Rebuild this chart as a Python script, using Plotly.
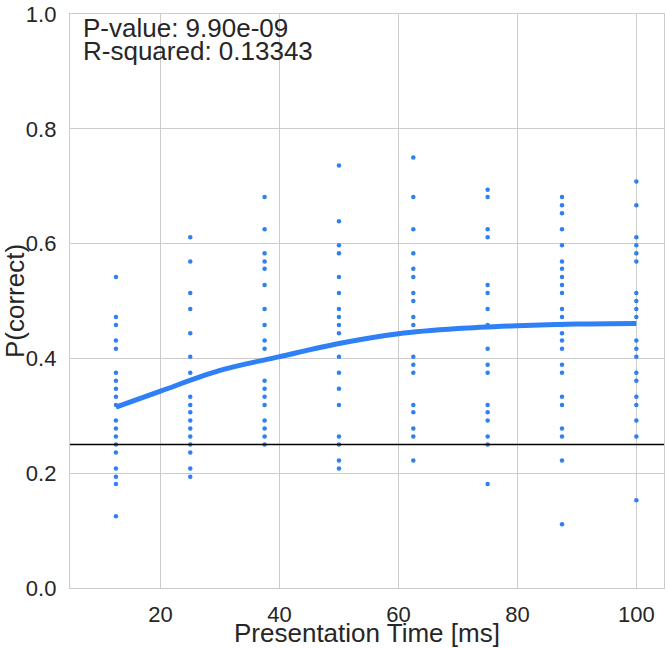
import plotly.graph_objects as go

# Presentation times (ms)
presentation_times = [12.5, 25, 37.5, 50, 62.5, 75, 87.5, 100]

# P(correct) per subject at each presentation time
p_12_5 = [0.542, 0.472, 0.458, 0.431, 0.417, 0.375, 0.361, 0.347, 0.333, 0.319,
          0.292, 0.278, 0.264, 0.25, 0.236, 0.208, 0.194, 0.181, 0.125]
p_25 = [0.611, 0.569, 0.514, 0.486, 0.444, 0.403, 0.375, 0.333, 0.319, 0.306,
        0.292, 0.278, 0.264, 0.25, 0.236, 0.208, 0.194]
p_37_5 = [0.681, 0.625, 0.583, 0.569, 0.556, 0.528, 0.486, 0.458, 0.431, 0.417,
          0.361, 0.347, 0.333, 0.319, 0.292, 0.278, 0.264, 0.25]
p_50 = [0.736, 0.639, 0.597, 0.583, 0.542, 0.514, 0.486, 0.472, 0.458, 0.444,
        0.403, 0.375, 0.347, 0.319, 0.264, 0.25, 0.222, 0.208]
p_62_5 = [0.75, 0.681, 0.625, 0.583, 0.556, 0.542, 0.514, 0.5, 0.472, 0.458,
          0.403, 0.389, 0.375, 0.319, 0.306, 0.278, 0.264, 0.222]
p_75 = [0.694, 0.681, 0.625, 0.611, 0.528, 0.514, 0.486, 0.458, 0.417, 0.389,
        0.375, 0.319, 0.306, 0.292, 0.264, 0.25, 0.181]
p_87_5 = [0.681, 0.667, 0.653, 0.625, 0.597, 0.569, 0.556, 0.542, 0.528, 0.514,
          0.486, 0.472, 0.458, 0.444, 0.431, 0.417, 0.389, 0.375, 0.333, 0.319,
          0.278, 0.264, 0.222, 0.111]
p_100 = [0.708, 0.667, 0.611, 0.597, 0.583, 0.569, 0.514, 0.5, 0.486, 0.472,
         0.431, 0.417, 0.403, 0.375, 0.361, 0.333, 0.319, 0.292, 0.264, 0.153]

columns = [p_12_5, p_25, p_37_5, p_50, p_62_5, p_75, p_87_5, p_100]

# Fitted curve
fit_x = [12.5, 20, 30, 40, 50, 60, 70, 80, 90, 100]
fit_y = [0.315, 0.343, 0.379, 0.403, 0.426, 0.443, 0.452, 0.457, 0.460, 0.461]

chance_level = 0.25
p_value_text = "P-value: 9.90e-09"
r_squared_text = "R-squared: 0.13343"
x_title = "Presentation Time [ms]"
y_title = "P(correct)"

x_ticks = [20, 40, 60, 80, 100]
y_ticks = [0.0, 0.2, 0.4, 0.6, 0.8, 1.0]

BLUE = "#3080f5"
GRID = "#cccccc"
TXT = "#262626"
FONT = "Liberation Sans, Arial, sans-serif"

xs, ys = [], []
for t, col in zip(presentation_times, columns):
    xs.extend([t] * len(col))
    ys.extend(col)

fig = go.Figure()
fig.add_trace(go.Scatter(x=xs, y=ys, mode="markers",
                         marker=dict(color=BLUE, size=4.5, line=dict(width=0)),
                         showlegend=False, hoverinfo="skip"))
fig.add_trace(go.Scatter(x=fit_x, y=fit_y, mode="lines",
                         line=dict(color=BLUE, width=5, shape="spline"),
                         showlegend=False, hoverinfo="skip"))
fig.add_hline(y=chance_level, line=dict(color="black", width=1.5))

ann_font = dict(size=26, color=TXT, family=FONT)
fig.add_annotation(x=0.0185, y=0.976, xref="paper", yref="paper", text=p_value_text,
                   showarrow=False, xanchor="left", yanchor="middle", font=ann_font)
fig.add_annotation(x=0.0185, y=0.9362, xref="paper", yref="paper", text=r_squared_text,
                   showarrow=False, xanchor="left", yanchor="middle", font=ann_font)
fig.add_annotation(x=0.5, y=-0.0776, xref="paper", yref="paper", text=x_title,
                   showarrow=False, xanchor="center", yanchor="middle", font=ann_font)
fig.add_annotation(x=-0.0925, y=0.5, xref="paper", yref="paper", text=y_title, textangle=-90,
                   showarrow=False, xanchor="center", yanchor="middle", font=ann_font)

axis_common = dict(showgrid=True, gridcolor=GRID, gridwidth=1.3, zeroline=False,
                   showline=True, linecolor=GRID, linewidth=1.3, mirror=True,
                   ticks="outside", tickcolor="rgba(0,0,0,0)", ticklabeloverflow="allow",
                   tickfont=dict(size=22, color=TXT))

fig.update_layout(
    width=667, height=648,
    margin=dict(l=70, r=2, t=8, b=60),
    paper_bgcolor="white", plot_bgcolor="white",
    font=dict(family=FONT, color=TXT),
    xaxis=dict(range=[4.78, 104.65], tickvals=x_ticks, ticklen=6, **axis_common),
    yaxis=dict(range=[0, 1.0], tickvals=y_ticks, tickformat=".1f", ticklen=8, **axis_common),
)

fig.write_html("out.html", config={"displayModeBar": False},
               post_script="document.body.style.margin='0';document.body.style.overflow='hidden';")
